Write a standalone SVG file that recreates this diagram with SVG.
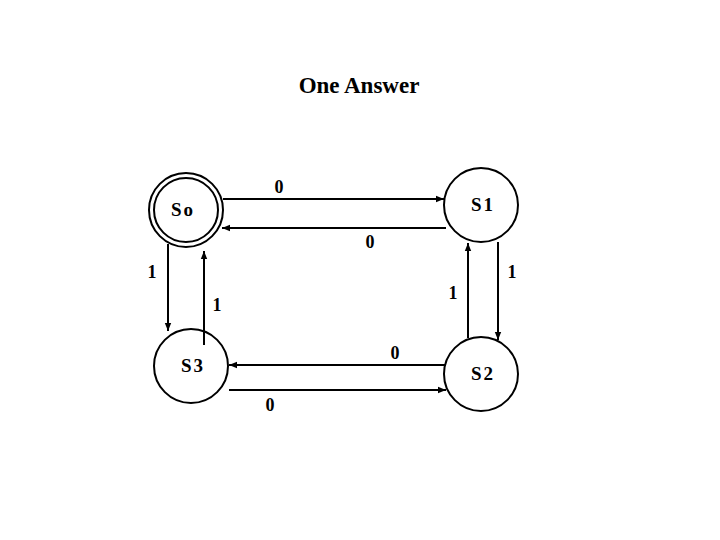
<svg xmlns="http://www.w3.org/2000/svg" width="720" height="540" viewBox="0 0 720 540">
<style>
.c{fill:none;stroke:#000;stroke-width:2}
.l{stroke:#000;stroke-width:2;fill:none;marker-end:url(#a)}
.t{font-family:"Liberation Serif",serif;font-weight:bold;font-size:18px;text-anchor:middle}
.n{font-family:"Liberation Serif",serif;font-weight:bold;font-size:19px;text-anchor:middle;letter-spacing:2px}
</style>
<defs>
<marker id="a" viewBox="0 0 10 10" refX="10" refY="5" markerWidth="4" markerHeight="4" orient="auto" markerUnits="strokeWidth">
<path d="M0,1 L10,5 L0,9 z" fill="#000"/>
</marker>
</defs>
<rect width="720" height="540" fill="#fff"/>
<text x="359" y="93" font-family="Liberation Serif,serif" font-weight="bold" font-size="23" text-anchor="middle">One Answer</text>
<g id="connectors">
<line class="l" x1="223" y1="199" x2="444" y2="199"/>
<line class="l" x1="446" y1="228" x2="222" y2="228"/>
<line class="l" x1="168" y1="244" x2="168" y2="331"/>
<line class="l" x1="204" y1="345" x2="204" y2="251"/>
<line class="l" x1="468" y1="338" x2="468" y2="243"/>
<line class="l" x1="498" y1="242" x2="498" y2="340"/>
<line class="l" x1="445" y1="365" x2="229" y2="365"/>
<line class="l" x1="229" y1="390" x2="446" y2="390"/>
<text class="t" x="279" y="193">0</text>
<text class="t" x="370" y="248">0</text>
<text class="t" x="152" y="278">1</text>
<text class="t" x="217" y="311">1</text>
<text class="t" x="453" y="299">1</text>
<text class="t" x="512" y="278">1</text>
<text class="t" x="395" y="359">0</text>
<text class="t" x="270" y="411">0</text>
</g>
<g id="So">
<circle class="c" cx="186" cy="210" r="37"/>
<circle class="c" cx="186" cy="210" r="32"/>
<text class="n" x="183" y="216">So</text>
</g>
<g id="S1">
<circle class="c" cx="481" cy="205" r="37"/>
<text class="n" x="483" y="211">S1</text>
</g>
<g id="S3">
<circle class="c" cx="191" cy="366" r="37"/>
<text class="n" x="193" y="372">S3</text>
</g>
<g id="S2">
<circle class="c" cx="481" cy="374" r="37"/>
<text class="n" x="483" y="380">S2</text>
</g>
</svg>
